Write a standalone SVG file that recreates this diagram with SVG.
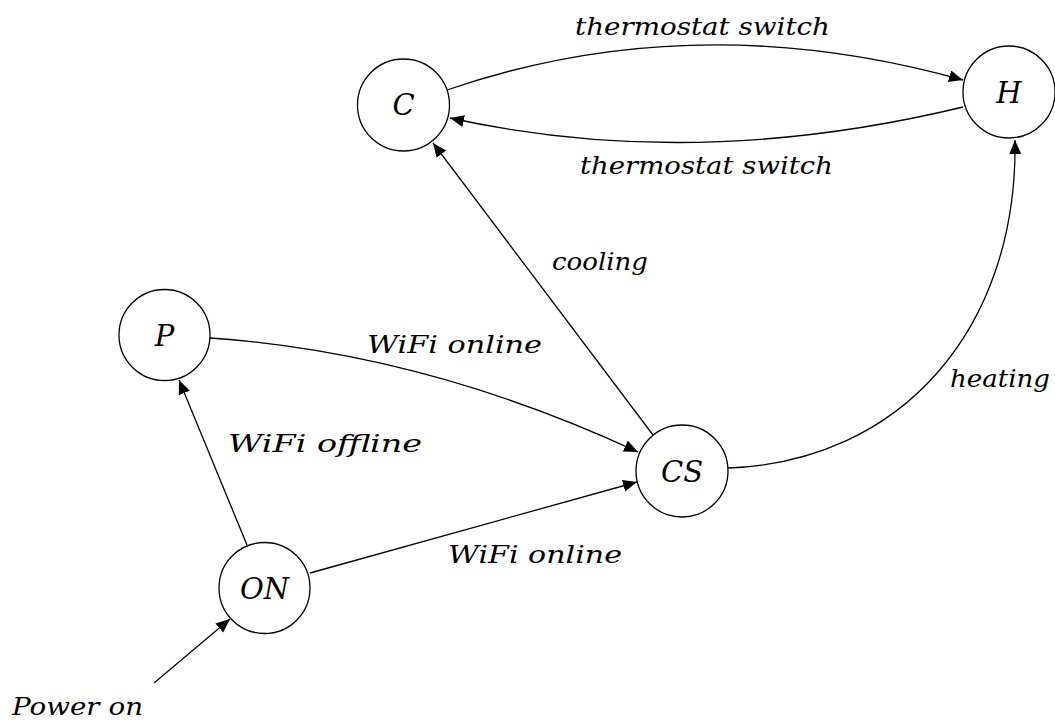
<svg xmlns="http://www.w3.org/2000/svg" width="1055" height="720" viewBox="0 0 1055 720">
<style>
.node{fill:#fff;stroke:#000;stroke-width:1.3}
.edge{fill:none;stroke:#000;stroke-width:1.3;marker-end:url(#arr)}
.nl{font-family:"DejaVu Serif",serif;font-style:italic;font-size:29px;text-anchor:middle;fill:#000}
.el{font-family:"DejaVu Serif",serif;font-style:italic;font-size:25px;fill:#000}
</style>
<defs>
<marker id="arr" markerUnits="userSpaceOnUse" markerWidth="16" markerHeight="14" refX="14" refY="6" orient="auto">
<path d="M0,0 L14,6 L0,12 Z" fill="#000"/>
</marker>
</defs>
<rect width="1055" height="720" fill="#fff"/>
<g id="connectors">
<path class="edge" d="M447,90 Q694,5 963,80"/>
<path class="edge" d="M963,107 Q694,172 450,118"/>
<path class="edge" d="M653,435 L433,143"/>
<path class="edge" d="M728,468 C900,462 1018,330 1015,140"/>
<path class="edge" d="M210,338 Q425,353 638,452"/>
<path class="edge" d="M247,545 L179,380"/>
<path class="edge" d="M310,573 L637,482"/>
<path class="edge" d="M154,683 L230,619"/>
</g>
<g id="labels">
<text class="el" x="575" y="35" textLength="255" lengthAdjust="spacingAndGlyphs">thermostat switch</text>
<text class="el" x="580" y="174" textLength="253" lengthAdjust="spacingAndGlyphs">thermostat switch</text>
<text class="el" x="552" y="270" textLength="96" lengthAdjust="spacingAndGlyphs">cooling</text>
<text class="el" x="950" y="387" textLength="100" lengthAdjust="spacingAndGlyphs">heating</text>
<text class="el" x="367" y="353" textLength="175" lengthAdjust="spacingAndGlyphs">WiFi online</text>
<text class="el" x="228" y="452" textLength="194" lengthAdjust="spacingAndGlyphs">WiFi offline</text>
<text class="el" x="448" y="563" textLength="174" lengthAdjust="spacingAndGlyphs">WiFi online</text>
<text class="el" x="12" y="715" textLength="131" lengthAdjust="spacingAndGlyphs">Power on</text>
</g>
<g id="node-C"><circle class="node" cx="403.5" cy="105" r="46"/><text class="nl" x="403.5" y="115">C</text></g>
<g id="node-H"><circle class="node" cx="1009" cy="92" r="46"/><text class="nl" x="1009" y="103">H</text></g>
<g id="node-CS"><circle class="node" cx="682" cy="471" r="46"/><text class="nl" x="682" y="482">CS</text></g>
<g id="node-ON"><circle class="node" cx="264.5" cy="588" r="45.5"/><text class="nl" x="264.5" y="599">ON</text></g>
<g id="node-P"><circle class="node" cx="164.5" cy="335" r="45.5"/><text class="nl" x="164.5" y="346">P</text></g>
</svg>
